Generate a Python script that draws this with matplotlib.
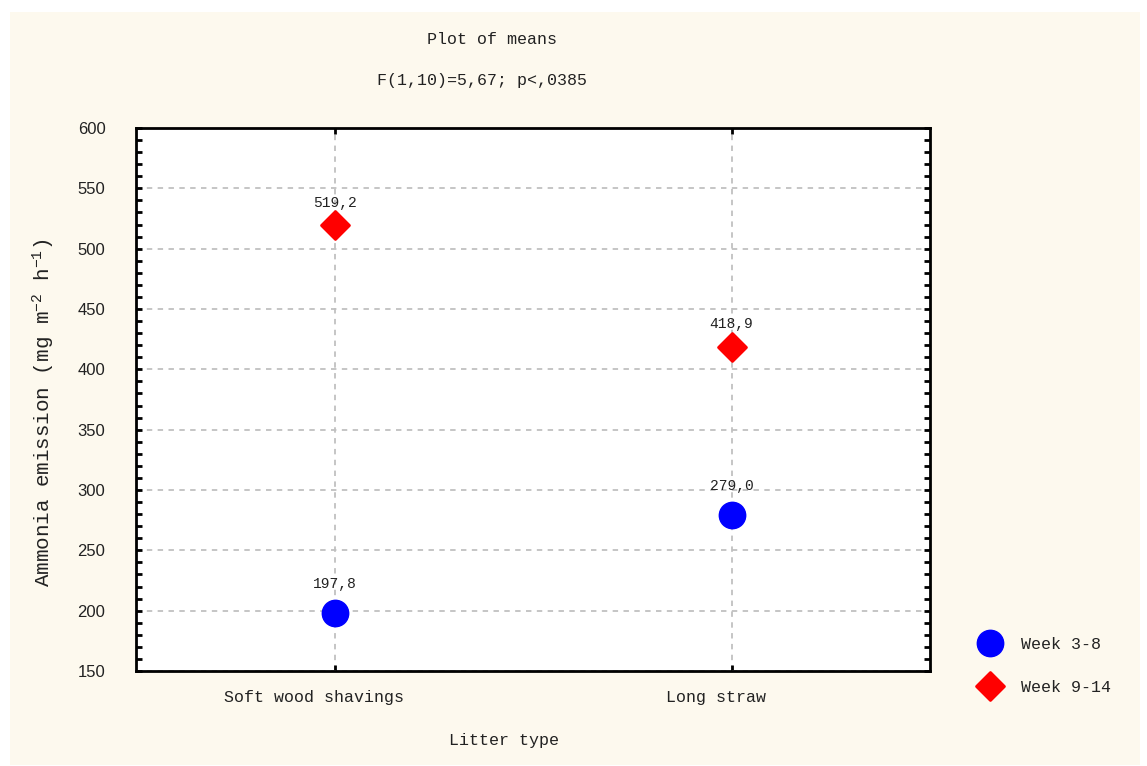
import numpy as np
import matplotlib
matplotlib.use("Agg")
import matplotlib.pyplot as plt
from matplotlib.patches import Rectangle
from matplotlib.markers import MarkerStyle
from matplotlib.ticker import MultipleLocator

plt.rcParams['font.family'] = ['Liberation Mono', 'DejaVu Sans Mono']
plt.rcParams['mathtext.fontset'] = 'custom'
plt.rcParams['mathtext.rm'] = 'Liberation Mono'
plt.rcParams['mathtext.default'] = 'rm'
plt.rcParams['text.color'] = '#222222'

# data
litter = ["Soft wood shavings    ", "Long straw   "]
week_3_8 = [197.8, 279.0]
week_9_14 = [519.2, 418.9]
series_names = ["Week 3-8", "Week 9-14"]
yticks = [150, 200, 250, 300, 350, 400, 450, 500, 550, 600]

fig = plt.figure(figsize=(11.47, 7.66), dpi=100)
fig.patch.set_facecolor("white")
# cream panel behind everything
fig.patches.append(Rectangle((10/1147, 1 - 765/766), 1130/1147, 753/766,
                             transform=fig.transFigure, facecolor="#fdf9ee",
                             edgecolor="none", zorder=-10))

ax = fig.add_axes([136/1147, 1 - 671/766, 794/1147, 543/766])
ax.set_facecolor("white")

x = np.arange(len(litter))
diamond = MarkerStyle("D", joinstyle="round")
ax.plot(x, week_3_8, linestyle="none", marker="o", ms=19, color="#0000ff",
        label=series_names[0], zorder=3)
ax.plot(x, week_9_14, linestyle="none", marker=diamond, ms=14, color="#ff0000",
        markeredgewidth=2, markeredgecolor="#ff0000", label=series_names[1],
        zorder=3)

for xi, v in zip(x, week_3_8):
    ax.annotate(f"{v:.1f}".replace(".", ","), (xi, v), xytext=(0, 16),
                textcoords="offset points", ha="center", va="bottom", fontsize=10.5)
for xi, v in zip(x, week_9_14):
    ax.annotate(f"{v:.1f}".replace(".", ","), (xi, v), xytext=(0, 11),
                textcoords="offset points", ha="center", va="bottom", fontsize=10.5)

ax.set_xlim(-0.5, 1.5)
ax.set_ylim(150, 600)
ax.set_xticks(x)
ax.set_xticklabels(litter, fontsize=12, color="#222222")
ax.set_yticks(yticks)
ax.set_yticklabels([str(t) for t in yticks], family=['Liberation Sans'], fontsize=12,
                   color="#222222")
ax.yaxis.set_minor_locator(MultipleLocator(10))
ax.tick_params(axis="y", which="both", direction="in", right=True, width=2, color="black")
ax.tick_params(axis="y", which="major", length=4, pad=22)
ax.tick_params(axis="y", which="minor", length=4)
ax.tick_params(axis="x", direction="in", top=True, length=4, width=2, pad=14)
for s in ax.spines.values():
    s.set_linewidth(2)
    s.set_color("black")

ax.grid(True, which="major", linestyle=(0, (3, 3)), color="#c0c0c0", linewidth=1.3)
ax.set_axisbelow(True)

fig.text(492/1147, 1 - 40/766, "Plot of means", ha="center", va="center", fontsize=12)
fig.text(482/1147, 1 - 81/766, "F(1,10)=5,67; p<,0385", ha="center", va="center", fontsize=12)
fig.text(504/1147, 1 - 741/766, "Litter type", ha="center", va="center", fontsize=12)
fig.text(44/1147, 1 - 413/766, "Ammonia emission (mg m$^{-2}$ h$^{-1}$)", rotation=90,
         ha="center", va="center", fontsize=15)

leg = fig.legend(handles=ax.lines[:2], labels=series_names, loc="center left",
                 bbox_to_anchor=(958/1147, 1 - 666/766), frameon=False, fontsize=12,
                 labelspacing=1.7, handletextpad=0.9, markerscale=1.0)

fig.savefig("out.png", dpi=100, facecolor=fig.get_facecolor())
